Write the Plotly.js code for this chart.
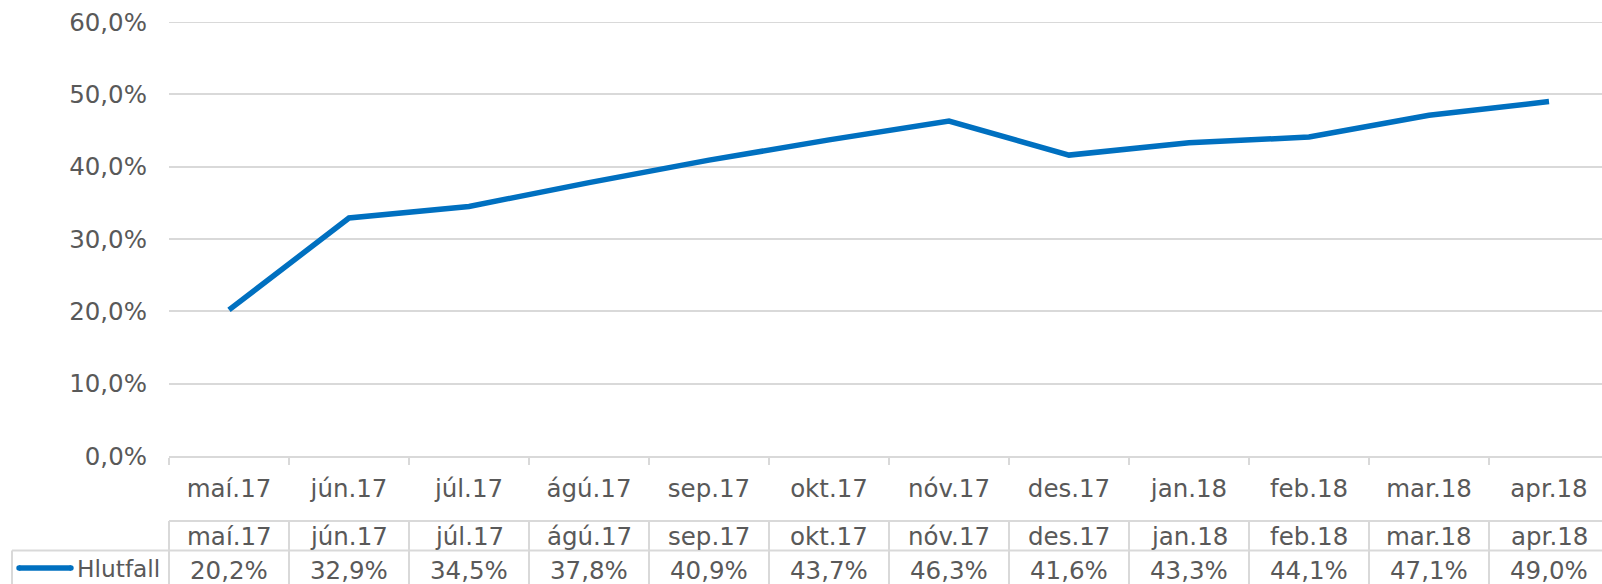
<!DOCTYPE html>
<html>
<head>
<meta charset="utf-8">
<script src="https://cdn.plot.ly/plotly-3.0.1.min.js"></script>
<style>
  html, body { margin: 0; padding: 0; background: #fff; overflow: hidden; }
  #chart { width: 1602px; height: 584px; }
</style>
</head>
<body>
<div id="chart"></div>
<script>
// ---- data ----
const categories = ["maí.17", "jún.17", "júl.17", "ágú.17", "sep.17", "okt.17", "nóv.17", "des.17", "jan.18", "feb.18", "mar.18", "apr.18"];
const seriesName = "Hlutfall";
const values = [20.2, 32.9, 34.5, 37.8, 40.9, 43.7, 46.3, 41.6, 43.3, 44.1, 47.1, 49.0];
const yTicks = [0, 10, 20, 30, 40, 50, 60];

// ---- layout helpers (pixel geometry) ----
const W = 1602, H = 584;
const M = { l: 169, r: 0, t: 22, b: 128 };
const plotW = W - M.l - M.r, plotH = H - M.t - M.b;
const py = p => (H - M.b - p) / plotH;    // pixel y -> paper y
const px = p => (p - M.l) / plotW;        // pixel x -> paper x

const TEXT = "#595959", GRID = "#d9d9d9", BLUE = "#0070C0";
const FONT = "DejaVu Sans, Verdana, sans-serif";
const FS = 24.5;
const fmt = v => v.toFixed(1).replace(".", ",") + "%";
const LW = 2;
const SW = 5.5;

const shapes = [];
const annotations = [];
const n = categories.length;

// table header top line
shapes.push({ type: "line", xref: "paper", yref: "paper", x0: 0, x1: 1.01, y0: py(521), y1: py(521), line: { color: GRID, width: LW } });
// header / data separator (extends to legend cell)
shapes.push({ type: "line", xref: "paper", yref: "paper", x0: px(12), x1: 1.01, y0: py(550.5), y1: py(550.5), line: { color: GRID, width: LW } });
// legend cell left border
shapes.push({ type: "line", xref: "paper", yref: "paper", x0: px(12), x1: px(12), y0: py(550.5), y1: py(590), line: { color: GRID, width: LW } });
// left border of table (plot left edge)
shapes.push({ type: "line", xref: "paper", yref: "paper", x0: 0, x1: 0, y0: py(521), y1: py(590), line: { color: GRID, width: LW } });
// vertical separators at category boundaries
for (let i = 1; i <= n; i++) {
  shapes.push({ type: "line", xref: "x", yref: "paper", x0: i - 0.5, x1: i - 0.5, y0: py(521), y1: py(590), line: { color: GRID, width: LW } });
}
// top gridline (Plotly drops the grid line at the range end)
shapes.push({ type: "line", xref: "paper", yref: "y", x0: 0, x1: 1.01, y0: yTicks[yTicks.length - 1], y1: yTicks[yTicks.length - 1], line: { color: GRID, width: LW }, layer: "below" });
// legend key line
shapes.push({ type: "line", xref: "paper", yref: "paper", x0: px(19), x1: px(71), y0: py(568), y1: py(568), line: { color: BLUE, width: SW } });
shapes.push({ type: "circle", xref: "paper", yref: "paper", x0: px(16.3), x1: px(21.7), y0: py(570.7), y1: py(565.3), fillcolor: BLUE, line: { width: 0 } });
shapes.push({ type: "circle", xref: "paper", yref: "paper", x0: px(68.3), x1: px(73.7), y0: py(570.7), y1: py(565.3), fillcolor: BLUE, line: { width: 0 } });

// legend label
annotations.push({ xref: "paper", yref: "paper", x: px(75), y: py(568), xanchor: "left", yanchor: "middle", text: seriesName, showarrow: false, font: { family: FONT, size: 23.3, color: TEXT } });

// table cells
categories.forEach((c, i) => {
  annotations.push({ xref: "x", yref: "paper", x: i, y: py(536), xanchor: "center", yanchor: "middle", text: c, showarrow: false, font: { family: FONT, size: FS, color: TEXT } });
  annotations.push({ xref: "x", yref: "paper", x: i, y: py(570), xanchor: "center", yanchor: "middle", text: fmt(values[i]), showarrow: false, font: { family: FONT, size: FS, color: TEXT } });
});

const trace = {
  type: "scatter",
  mode: "lines",
  name: seriesName,
  x: categories,
  y: values,
  line: { color: BLUE, width: SW },
  cliponaxis: false,
  hoverinfo: "skip"
};

const layout = {
  width: W, height: H,
  margin: M,
  paper_bgcolor: "#fff", plot_bgcolor: "#fff",
  showlegend: false,
  separators: ",.",
  font: { family: FONT, size: FS, color: TEXT },
  xaxis: {
    type: "category",
    categoryorder: "array",
    categoryarray: categories,
    range: [-0.5, n - 0.5 - (n * 120 - plotW) / 120],
    showgrid: false,
    showline: true, linecolor: GRID, linewidth: LW,
    ticks: "outside", tickson: "boundaries", ticklen: 7, tickcolor: GRID, tickwidth: LW,
    ticklabelstandoff: 10,
    tickfont: { family: FONT, size: FS, color: TEXT },
    fixedrange: true
  },
  yaxis: {
    range: [0, 60],
    tickmode: "array",
    tickvals: yTicks,
    ticktext: yTicks.map(fmt),
    showgrid: true, gridcolor: GRID, gridwidth: LW,
    zeroline: false,
    showline: false,
    ticks: "",
    ticklabelstandoff: 21,
    tickfont: { family: FONT, size: FS, color: TEXT },
    fixedrange: true
  },
  shapes: shapes,
  annotations: annotations
};

Plotly.newPlot("chart", [trace], layout, { displayModeBar: false, staticPlot: true });
</script>
</body>
</html>
